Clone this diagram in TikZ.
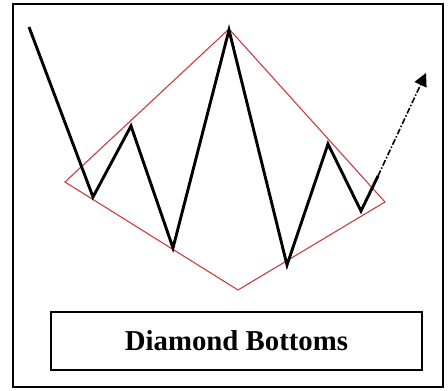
\documentclass[tikz,border=0pt]{standalone}
\usepackage{fontspec}
\usepackage{xcolor}
\setmainfont{Liberation Serif}
\usetikzlibrary{arrows.meta}
\definecolor{diared}{RGB}{205,60,60}

\begin{document}
\begin{tikzpicture}[x=1pt,y=-1pt]
    \useasboundingbox (0,0) rectangle (448,391);
    % outer frame
    \draw[line width=2pt] (13,4) rectangle (443,387);
    % diamond outline
    \coordinate (dl) at (65,182);
    \coordinate (dt) at (229,29);
    \coordinate (dr) at (385,202);
    \coordinate (db) at (238,290);
    \draw[diared,line width=1.1pt] (dl) -- (dt) -- (dr) -- (db) -- cycle;
    % price path
    \coordinate (p0) at (29,27);
    \coordinate (p1) at (93,197);
    \coordinate (p2) at (131,126);
    \coordinate (p3) at (173,248);
    \coordinate (p4) at (229,30);
    \coordinate (p5) at (287,265);
    \coordinate (p6) at (328,144);
    \coordinate (p7) at (361,211);
    \coordinate (p8) at (378,176);
    \draw[line width=2.9pt,line join=miter] (p0) -- (p1) -- (p2) -- (p3) -- (p4)
        -- (p5) -- (p6) -- (p7) -- (p8);
    % breakout
    \coordinate (tip) at (426,73);
    \draw[line width=1.6pt,dash pattern=on 6pt off 2pt on 1.5pt off 2pt,
        -{Triangle[width=13pt,length=13pt]}] (p8) -- (tip);
    % caption
    \node[draw,line width=1.3pt,minimum width=371pt,minimum height=58pt,
        inner sep=0pt,font=\fontsize{28.8}{34}\selectfont\bfseries]
        (caption) at (236.5,341) {Diamond Bottoms};
\end{tikzpicture}
\end{document}
